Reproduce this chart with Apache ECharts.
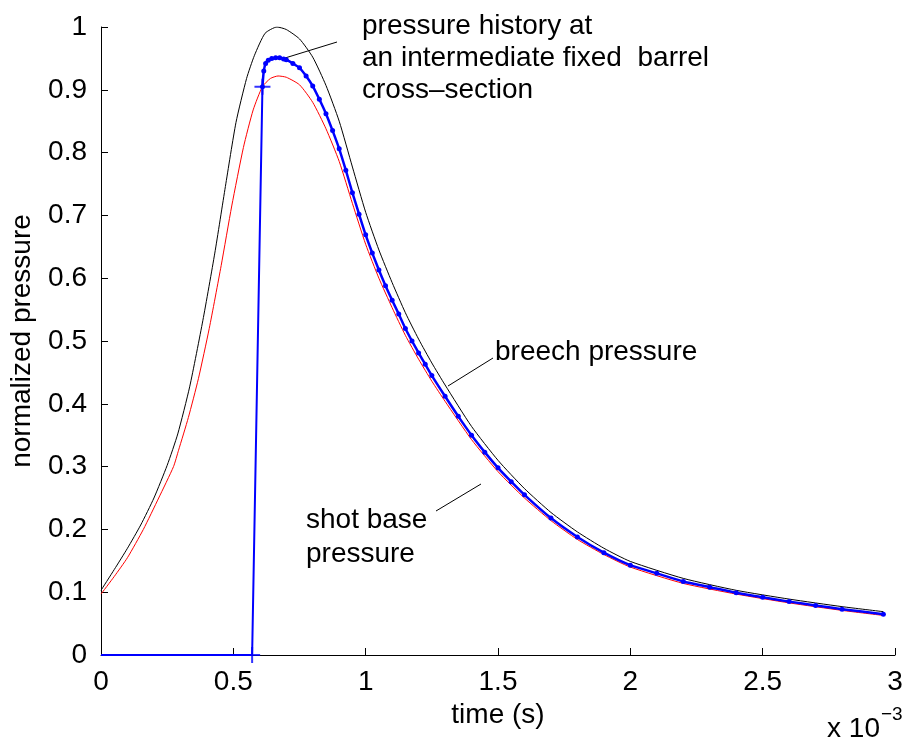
<!DOCTYPE html>
<html>
<head>
<meta charset="utf-8">
<script src="https://cdn.jsdelivr.net/npm/echarts@6/dist/echarts.min.js"></script>
<style>
  html, body { margin: 0; padding: 0; background: #fff; }
  #chart { width: 906px; height: 740px; }
</style>
</head>
<body>
<div id="chart"></div>
<script>
// time in units of 1e-3 s
const breechTime = [0, 0.05, 0.1, 0.15, 0.2, 0.25, 0.29, 0.335, 0.385, 0.43, 0.47, 0.51, 0.55, 0.58, 0.62, 0.665, 0.7, 0.75, 0.8, 0.85, 0.9, 0.95, 1.0, 1.05, 1.1, 1.15, 1.2, 1.25, 1.3, 1.4, 1.5, 1.6, 1.7, 1.8, 1.9, 2.0, 2.2, 2.4, 2.6, 2.8, 2.956];
const breechP    = [0.103, 0.136, 0.17, 0.207, 0.25, 0.302, 0.352, 0.427, 0.533, 0.64, 0.746, 0.848, 0.918, 0.955, 0.99, 1.0, 0.996, 0.981, 0.952, 0.907, 0.85, 0.777, 0.705, 0.645, 0.593, 0.545, 0.503, 0.465, 0.43, 0.364, 0.31, 0.265, 0.227, 0.196, 0.17, 0.149, 0.122, 0.103, 0.089, 0.077, 0.069];

const baseTime = [0, 0.05, 0.1, 0.16, 0.218, 0.274, 0.293, 0.33, 0.368, 0.409, 0.454, 0.494, 0.538, 0.575, 0.61, 0.64, 0.669, 0.7, 0.75, 0.8, 0.85, 0.9, 0.95, 1.0, 1.05, 1.1, 1.15, 1.2, 1.25, 1.3, 1.4, 1.5, 1.6, 1.7, 1.8, 1.9, 2.0, 2.2, 2.4, 2.6, 2.8, 2.956];
const baseP    = [0.097, 0.125, 0.155, 0.2, 0.25, 0.3, 0.326, 0.378, 0.44, 0.52, 0.62, 0.715, 0.808, 0.868, 0.905, 0.918, 0.922, 0.92, 0.908, 0.88, 0.838, 0.786, 0.719, 0.654, 0.6, 0.553, 0.509, 0.471, 0.436, 0.404, 0.343, 0.292, 0.25, 0.214, 0.184, 0.16, 0.14, 0.114, 0.097, 0.083, 0.071, 0.063];

// pressure at the fixed cross-section: zero until the shot passes, then the sampled history
const stationTime = [0, 0.571, 0.61];
const stationP    = [0, 0, 0.905];
const historyTime = [0.61, 0.615, 0.622, 0.632, 0.645, 0.66, 0.675, 0.69, 0.7, 0.725, 0.75, 0.775, 0.8, 0.825, 0.85, 0.875, 0.9, 0.925, 0.95, 0.975, 1.0, 1.025, 1.05, 1.075, 1.1, 1.125, 1.15, 1.175, 1.2, 1.225, 1.25, 1.3, 1.35, 1.4, 1.45, 1.5, 1.55, 1.6, 1.7, 1.8, 1.9, 2.0, 2.1, 2.2, 2.3, 2.4, 2.5, 2.6, 2.7, 2.8, 2.956];
const historyP    = [0.905, 0.93, 0.942, 0.947, 0.95, 0.951, 0.951, 0.949, 0.948, 0.942, 0.935, 0.922, 0.906, 0.885, 0.862, 0.835, 0.806, 0.772, 0.736, 0.702, 0.669, 0.64, 0.613, 0.588, 0.565, 0.543, 0.52, 0.5, 0.481, 0.463, 0.445, 0.412, 0.38, 0.35, 0.323, 0.298, 0.276, 0.255, 0.218, 0.188, 0.163, 0.143, 0.13, 0.117, 0.108, 0.099, 0.092, 0.085, 0.079, 0.073, 0.065];

// '+' markers: shot arrival and first sample
const crossTime = [0.571, 0.61];
const crossP    = [0, 0.905];

const xTicks = [0, 0.5, 1, 1.5, 2, 2.5, 3];
const yTicks = [0, 0.1, 0.2, 0.3, 0.4, 0.5, 0.6, 0.7, 0.8, 0.9, 1];

const zip = (a, b) => a.map((v, i) => [v, b[i]]);
const FONT = '"Liberation Sans", Arial, Helvetica, sans-serif';
const plus = 'path://M0,7H16V9H0Z M7,0H9V16H7Z';

const chart = echarts.init(document.getElementById('chart'));

const option = {
  backgroundColor: '#fff',
  animation: false,
  grid: { left: 97, right: 11, top: 27, bottom: 85 },
  xAxis: {
    type: 'value',
    min: xTicks[0],
    max: xTicks[xTicks.length - 1],
    interval: 0.5,
    name: 'time (s)',
    nameLocation: 'middle',
    nameGap: 40,
    nameTextStyle: { color: '#000', fontSize: 28, fontFamily: FONT },
    axisLine: { show: true, onZero: false, lineStyle: { color: '#000', width: 1 } },
    axisTick: { show: true, inside: true, length: 7, lineStyle: { color: '#000' } },
    axisLabel: { color: '#000', fontSize: 28, fontFamily: FONT, margin: 13 },
    splitLine: { show: false },
  },
  yAxis: {
    type: 'value',
    min: yTicks[0],
    max: yTicks[yTicks.length - 1],
    interval: 0.1,
    name: 'normalized pressure',
    nameLocation: 'middle',
    nameGap: 65,
    nameTextStyle: { color: '#000', fontSize: 28, fontFamily: FONT },
    axisLine: { show: true, onZero: false, lineStyle: { color: '#000', width: 1 } },
    axisTick: { show: true, inside: true, length: 7, lineStyle: { color: '#000' } },
    axisLabel: { color: '#000', fontSize: 28, fontFamily: FONT, margin: 14 },
    splitLine: { show: false },
  },
  series: [
    {
      name: 'breech pressure',
      type: 'line',
      data: zip(breechTime, breechP),
      smooth: 0.2,
      showSymbol: false,
      lineStyle: { color: '#000', width: 1 },
      z: 2,
    },
    {
      name: 'shot base pressure',
      type: 'line',
      data: zip(baseTime, baseP),
      smooth: 0.2,
      showSymbol: false,
      lineStyle: { color: '#ff0000', width: 1 },
      z: 3,
    },
    {
      name: 'station',
      type: 'line',
      data: zip(stationTime, stationP),
      showSymbol: false,
      lineStyle: { color: '#0000ff', width: 2 },
      z: 4,
    },
    {
      name: 'pressure history',
      type: 'line',
      data: zip(historyTime, historyP),
      smooth: 0.2,
      symbol: 'circle',
      symbolSize: 5,
      itemStyle: { color: '#0000ff' },
      lineStyle: { color: '#0000ff', width: 2.5 },
      z: 5,
    },
    {
      name: 'cross',
      type: 'scatter',
      data: zip(crossTime, crossP),
      symbol: plus,
      symbolSize: 16,
      itemStyle: { color: '#0000ff' },
      z: 6,
    },
  ],
  graphic: [
    { type: 'line', shape: { x1: 285, y1: 58, x2: 337, y2: 42 }, style: { stroke: '#000', lineWidth: 1 } },
    { type: 'line', shape: { x1: 448, y1: 386, x2: 493, y2: 358 }, style: { stroke: '#000', lineWidth: 1 } },
    { type: 'line', shape: { x1: 436, y1: 511, x2: 481, y2: 484 }, style: { stroke: '#000', lineWidth: 1 } },
    {
      type: 'text', x: 362, y: 10,
      style: { text: 'pressure history at\nan intermediate fixed  barrel\ncross\u2013section', font: '28px ' + FONT, fill: '#000', lineHeight: 32, verticalAlign: 'top' },
    },
    {
      type: 'text', x: 495, y: 352,
      style: { text: 'breech pressure', font: '28px ' + FONT, fill: '#000', verticalAlign: 'middle' },
    },
    {
      type: 'text', x: 306, y: 503,
      style: { text: 'shot base\npressure', font: '28px ' + FONT, fill: '#000', lineHeight: 34, verticalAlign: 'top' },
    },
    {
      type: 'text', x: 880, y: 729,
      style: { text: 'x 10', font: '28px ' + FONT, fill: '#000', align: 'right', verticalAlign: 'middle' },
    },
    {
      type: 'text', x: 881, y: 715,
      style: { text: '\u22123', font: '19px ' + FONT, fill: '#000', align: 'left', verticalAlign: 'middle' },
    },
  ],
};

chart.setOption(option);
</script>
</body>
</html>
